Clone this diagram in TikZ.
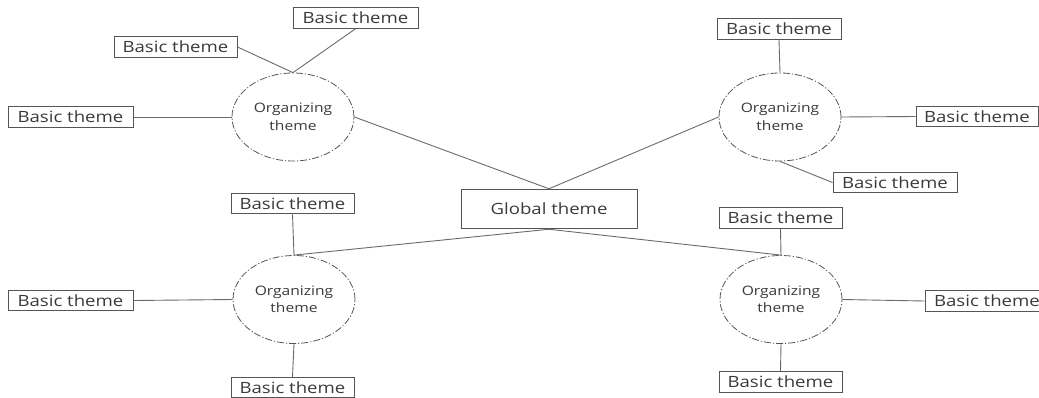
\documentclass[tikz,border=0pt]{standalone}
\usepackage{fontspec}
\setmainfont{Open Sans}[FakeStretch=1.2]
\usetikzlibrary{shapes.geometric}
\definecolor{txt}{HTML}{3A3A3A}
\definecolor{edge}{HTML}{6A6A6A}
\definecolor{frame}{HTML}{555555}
\tikzset{
  basic/.style={draw=frame, line width=1pt, rectangle, minimum width=124pt, minimum height=20.5pt, inner sep=0pt, text=txt, font=\fontsize{15.5}{18}\selectfont},
  global/.style={draw=frame, line width=1pt, rectangle, minimum width=176pt, minimum height=39.5pt, inner sep=0pt, text=txt, font=\fontsize{15.5}{18}\selectfont},
  organ/.style={draw=frame, ellipse, line width=0.8pt, dash pattern=on 7pt off 2pt on 1.2pt off 2pt, minimum width=122pt, minimum height=88pt, inner sep=0pt, align=center, text=txt, font=\fontsize{13}{17.5}\selectfont},
  link/.style={draw=edge, line width=0.9pt}
}
\begin{document}
\begin{tikzpicture}[x=1pt,y=-1pt]
\useasboundingbox (0,0) rectangle (1039,397);
% global
\node[global] (g) at (549,209) {Global theme};
% organizing themes
\node[organ] (tl) at (293,117) {Organizing\\theme};
\node[organ] (tr) at (780,117) {Organizing\\theme};
\node[organ] (bl) at (294,299.5) {Organizing\\theme};
\node[organ] (br) at (781,299.5) {Organizing\\theme};
% basic themes, top left
\node[basic, minimum width=125pt] (tl1) at (355.5,18) {Basic theme};
\node[basic, minimum width=123pt] (tl2) at (175.5,47) {Basic theme};
\node[basic, minimum width=125pt] (tl3) at (70.5,117) {Basic theme};
% basic themes, top right
\node[basic] (tr1) at (779,29) {Basic theme};
\node[basic, minimum width=122pt] (tr2) at (977,116.5) {Basic theme};
\node[basic] (tr3) at (895,182.5) {Basic theme};
% basic themes, bottom left
\node[basic, minimum width=123pt] (bl1) at (292.5,203.5) {Basic theme};
\node[basic, minimum width=125pt] (bl2) at (70.5,300.5) {Basic theme};
\node[basic, minimum width=123pt] (bl3) at (292.5,387.5) {Basic theme};
% basic themes, bottom right
\node[basic, minimum width=123pt] (br1) at (780.5,218) {Basic theme};
\node[basic] (br2) at (987,301) {Basic theme};
\node[basic, minimum width=123pt] (br3) at (780.5,382) {Basic theme};
% connectors to global
\draw[link] (tl.east) -- (g.north);
\draw[link] (tr.west) -- (g.north);
\draw[link] (bl.north) -- (g.south);
\draw[link] (br.north) -- (g.south);
% top left
\draw[link] (tl1.south) -- (tl.north);
\draw[link] (tl2.east) -- (tl.north);
\draw[link] (tl3.east) -- (tl.west);
% top right
\draw[link] (tr1.south) -- (tr.north);
\draw[link] (tr.east) -- (tr2.west);
\draw[link] (tr.south) -- (tr3.west);
% bottom left
\draw[link] (bl1.south) -- (bl.north);
\draw[link] (bl2.east) -- (bl.west);
\draw[link] (bl.south) -- (bl3.north);
% bottom right
\draw[link] (br1.south) -- (br.north);
\draw[link] (br.east) -- (br2.west);
\draw[link] (br.south) -- (br3.north);
\end{tikzpicture}
\end{document}
